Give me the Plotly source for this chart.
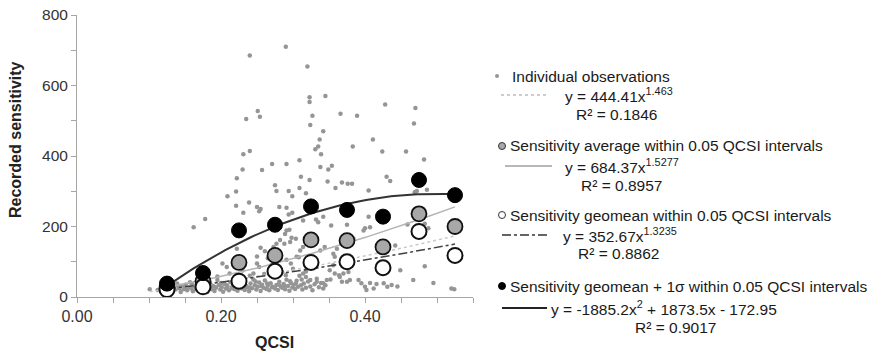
import numpy as np
import plotly.graph_objects as go

# ---------------- data ----------------
obs_qcsi = [
    0.290, 0.240, 0.320, 0.323, 0.323, 0.345, 0.327, 0.324, 0.366, 0.389, 0.428, 0.470, 0.468,
    0.342, 0.337, 0.335, 0.331, 0.339, 0.383, 0.411, 0.424, 0.457, 0.482, 0.309,
    0.251, 0.254, 0.235, 0.240, 0.231,
    0.230, 0.257, 0.271, 0.291, 0.222, 0.275, 0.277, 0.294, 0.299, 0.309, 0.221, 0.209, 0.221,
    0.239, 0.250, 0.255, 0.253, 0.231, 0.281, 0.291, 0.294, 0.299, 0.178, 0.162, 0.291,
    0.354, 0.349, 0.338, 0.311, 0.323, 0.348, 0.368, 0.376, 0.382, 0.359, 0.318, 0.430, 0.435,
    0.405, 0.472, 0.486, 0.332, 0.335, 0.342, 0.353, 0.375, 0.314, 0.405, 0.400, 0.407, 0.459,
    0.483, 0.488, 0.469, 0.384, 0.358, 0.338, 0.344, 0.361, 0.289, 0.295, 0.398,
    0.222, 0.255, 0.261, 0.282, 0.288, 0.298, 0.304, 0.250, 0.253, 0.291, 0.297, 0.305, 0.202,
    0.212, 0.245, 0.273, 0.277, 0.296, 0.310, 0.314, 0.308, 0.328, 0.351, 0.356, 0.208,
    0.442, 0.356, 0.449, 0.483, 0.467, 0.495, 0.520, 0.524,
    0.314, 0.318, 0.324, 0.333, 0.342, 0.347, 0.352, 0.358, 0.364, 0.368, 0.375, 0.379, 0.391,
    0.395, 0.400, 0.402, 0.407, 0.416, 0.426, 0.431, 0.437, 0.365, 0.370, 0.377, 0.412, 0.445,
    0.101, 0.112, 0.118, 0.121, 0.126, 0.129, 0.131, 0.134, 0.137, 0.139, 0.142, 0.144, 0.146,
    0.148, 0.151, 0.153, 0.155, 0.157, 0.159, 0.161, 0.163, 0.165, 0.167, 0.169, 0.171, 0.173,
    0.175, 0.177, 0.179, 0.181, 0.183, 0.185, 0.187, 0.189, 0.191, 0.193, 0.195, 0.197, 0.199,
    0.201, 0.203, 0.205, 0.207, 0.209, 0.211, 0.213, 0.215, 0.217, 0.219, 0.221, 0.223, 0.225,
    0.227, 0.229, 0.231, 0.233, 0.235, 0.237, 0.239, 0.241, 0.243, 0.245, 0.247, 0.249, 0.251,
    0.253, 0.255, 0.257, 0.259, 0.261, 0.263, 0.265, 0.267, 0.269, 0.271, 0.273, 0.275, 0.277,
    0.279, 0.281, 0.283, 0.285, 0.287, 0.289, 0.291, 0.293, 0.295, 0.297, 0.299, 0.301, 0.303,
    0.305, 0.307, 0.309, 0.311, 0.313, 0.315, 0.318, 0.321, 0.324, 0.327, 0.330, 0.333, 0.336,
    0.339, 0.342, 0.345,
    0.128, 0.140, 0.152, 0.160, 0.168, 0.176, 0.184, 0.192, 0.200, 0.208, 0.216, 0.224, 0.232,
    0.240, 0.248, 0.256, 0.264, 0.272, 0.280, 0.288, 0.296, 0.304, 0.312, 0.240, 0.260, 0.285,
    0.300, 0.230, 0.270, 0.290, 0.318, 0.195, 0.182, 0.265, 0.280, 0.250,
]
obs_sens = [
    710, 685, 654, 567, 553, 570, 514, 488, 520, 514, 546, 536, 492,
    470, 447, 427, 419, 405, 427, 447, 413, 413, 390, 388,
    528, 511, 505, 414, 405,
    362, 360, 377, 377, 337, 317, 301, 301, 286, 309, 299, 286, 259,
    268, 255, 250, 243, 239, 255, 253, 234, 239, 221, 198, 189,
    372, 362, 369, 341, 332, 328, 325, 321, 321, 309, 294, 341, 329,
    302, 301, 304, 220, 212, 228, 203, 205, 217, 228, 195, 198, 206,
    208, 195, 297, 165, 114, 132, 142, 137, 179, 191, 189,
    137, 140, 130, 162, 151, 168, 165, 95, 85, 106, 95, 114, 95,
    67, 67, 142, 151, 156, 132, 142, 113, 114, 76, 90, 85,
    146, 123, 76, 87, 48, 40, 24, 22,
    67, 57, 48, 43, 39, 48, 50, 67, 62, 43, 43, 48, 48,
    39, 29, 20, 40, 37, 39, 29, 34, 57, 67, 71, 24, 30,
    22, 20, 28, 15, 24, 33, 18, 27, 21, 38, 25, 14, 30,
    22, 35, 19, 27, 42, 24, 16, 31, 23, 37, 20, 28, 45,
    18, 33, 25, 14, 29, 39, 22, 31, 17, 26, 48, 34, 21,
    28, 15, 37, 24, 30, 19, 42, 27, 33, 22, 55, 18, 29,
    36, 24, 44, 20, 31, 27, 16, 38, 25, 50, 33, 21, 29,
    41, 17, 35, 26, 47, 23, 32, 19, 39, 28, 56, 24, 34,
    20, 43, 30, 26, 37, 22, 49, 31, 18, 40, 27, 35, 23,
    46, 29, 60, 33, 21, 38, 26, 44, 30, 19, 36, 52, 28,
    40, 24, 33,
    30, 32, 26, 36, 29, 24, 35, 28, 40, 33, 25, 38, 30,
    27, 44, 31, 38, 29, 36, 32, 45, 38, 50, 60, 65, 70,
    80, 75, 90, 62, 72, 58, 50, 110, 125, 115,
]

bin_centers = [0.125, 0.175, 0.225, 0.275, 0.325, 0.375, 0.425, 0.475, 0.525]
sens_average = [28, 45, 98, 118, 162, 160, 142, 236, 200]
sens_geomean = [21, 29, 45, 73, 98, 100, 83, 186, 118]
sens_geomean_plus_sigma = [38, 68, 189, 205, 257, 247, 228, 332, 289]

# trend-line coefficients (as printed on the chart)
obs_trend = [444.41, 1.463]          # y = a x^b
avg_trend = [684.37, 1.5277]         # y = a x^b
geo_trend = [352.67, 1.3235]         # y = a x^b
sig_trend = [-1885.2, 1873.5, -172.95]  # y = a x^2 + b x + c

x_ticks = [0.0, 0.2, 0.4]
y_ticks = [0, 200, 400, 600, 800]

# ---------------- figure ----------------
FONT = "Liberation Sans, Arial, sans-serif"
fig = go.Figure()

fig.add_trace(go.Scatter(
    x=obs_qcsi, y=obs_sens, mode="markers",
    marker=dict(size=4.5, color="#959595"), hoverinfo="skip"))

xo = np.linspace(min(obs_qcsi), max(obs_qcsi), 100)
fig.add_trace(go.Scatter(x=xo, y=obs_trend[0] * xo ** obs_trend[1], mode="lines",
                         line=dict(color="#c8c8c8", width=1.5, dash="dot")))
xb = np.linspace(bin_centers[0], bin_centers[-1], 100)
fig.add_trace(go.Scatter(x=xb, y=avg_trend[0] * xb ** avg_trend[1], mode="lines",
                         line=dict(color="#b4b4b4", width=1.5)))
fig.add_trace(go.Scatter(x=xb, y=geo_trend[0] * xb ** geo_trend[1], mode="lines",
                         line=dict(color="#404040", width=1.5, dash="dashdot")))
fig.add_trace(go.Scatter(x=xb, y=np.polyval(sig_trend, xb), mode="lines",
                         line=dict(color="#333333", width=2)))

fig.add_trace(go.Scatter(x=bin_centers, y=sens_average, mode="markers",
                         marker=dict(size=15, color="#a8a8a8", line=dict(color="#111", width=1.8))))
fig.add_trace(go.Scatter(x=bin_centers, y=sens_geomean, mode="markers",
                         marker=dict(size=15, color="#ffffff", line=dict(color="#111", width=2))))
fig.add_trace(go.Scatter(x=bin_centers, y=sens_geomean_plus_sigma, mode="markers",
                         marker=dict(size=15, color="#000000", line=dict(color="#000", width=1))))

# plot-area edges in window pixels; the page body adds an 8px offset
OFF = 8
L, T, R, B = 77, 15, 473, 297
WIN_W, WIN_H = 894, 354
W, H = WIN_W - OFF, WIN_H - OFF


def px(x, y):
    return (x - L) / (R - L), (B - y) / (B - T)


shapes = []
annotations = []


def text(x, y, s, size=15.5, anchor="left", angle=0, color="#1a1a1a"):
    xp, yp = px(x, y)
    annotations.append(dict(x=xp, y=yp, xref="paper", yref="paper", text=s, showarrow=False,
                            xanchor=anchor, yanchor="middle", borderpad=0, textangle=angle,
                            font=dict(family=FONT, size=size, color=color)))


def line(x0, x1, y, color, width, dash):
    a, b = px(x0, y)
    c, d = px(x1, y)
    shapes.append(dict(type="line", xref="paper", yref="paper", x0=a, y0=b, x1=c, y1=d,
                       line=dict(color=color, width=width, dash=dash)))


def dot(x, y, r, fill, edge, ew):
    a, b = px(x - r, y + r)
    c, d = px(x + r, y - r)
    shapes.append(dict(type="circle", xref="paper", yref="paper", x0=a, y0=b, x1=c, y1=d,
                       fillcolor=fill, line=dict(color=edge, width=ew)))


# axis titles
text(15, 140, "<b>Recorded sensitivity</b>", size=16, anchor="center", angle=-90, color="#222")
text(274, 342, "<b>QCSI</b>", size=16, anchor="center", color="#222")

# group 1
dot(497, 76, 2, "#959595", "#959595", 0)
text(511, 76, "Individual observations")
line(501, 548, 95, "#9a9a9a", 1.2, "dot")
text(564, 95, "y = 444.41x<sup>1.463</sup>")
text(575, 114, "R² = 0.1846")
# group 2
dot(502, 146, 3.5, "#a8a8a8", "#333", 1)
text(509, 146, "Sensitivity average within 0.05 QCSI intervals")
line(505, 552, 166, "#a0a0a0", 1.5, "solid")
text(564, 166, "y = 684.37x<sup>1.5277</sup>")
text(580, 185, "R² = 0.8957")
# group 3
dot(502, 215, 3.5, "#ffffff", "#333", 1)
text(509, 215, "Sensitivity geomean within 0.05 QCSI intervals")
line(502, 549, 235, "#333333", 1.5, "dashdot")
text(562, 235, "y = 352.67x<sup>1.3235</sup>")
text(577, 254, "R² = 0.8862")
# group 4
dot(502, 286, 3.5, "#000000", "#000", 1)
text(509, 286, "Sensitivity geomean + 1σ within 0.05 QCSI intervals")
line(502, 547, 308, "#222222", 1.8, "solid")
text(550, 308, "y = -1885.2x<sup>2</sup> + 1873.5x - 172.95")
text(634, 327, "R² = 0.9017")

fig.update_layout(
    width=W, height=H,
    margin=dict(l=L - OFF, r=W - (R - OFF), t=T - OFF, b=H - (B - OFF), pad=0),
    paper_bgcolor="white", plot_bgcolor="white",
    showlegend=False,
    font=dict(family=FONT, size=16, color="#222"),
    shapes=shapes, annotations=annotations,
    xaxis=dict(range=[0, 0.55], tickvals=x_ticks, tickformat=".2f", automargin=False,
               showgrid=False, zeroline=False, showline=True, linecolor="#a6a6a6", linewidth=1,
               ticks="outside", ticklen=5, tickcolor="#a6a6a6", ticklabeloverflow="allow",
               minor=dict(dtick=0.05, tick0=0, ticks="outside", ticklen=5, tickcolor="#a6a6a6", showgrid=False),
               tickfont=dict(size=16, color="#333")),
    yaxis=dict(range=[0, 800], tickvals=y_ticks, automargin=False,
               showgrid=False, zeroline=False, showline=True, linecolor="#a6a6a6", linewidth=1,
               ticks="outside", ticklen=5, tickcolor="#a6a6a6", ticklabeloverflow="allow",
               minor=dict(dtick=100, tick0=0, ticks="outside", ticklen=5, tickcolor="#a6a6a6", showgrid=False),
               tickfont=dict(size=15.5, color="#333")),
)

fig.write_html("out.html")
